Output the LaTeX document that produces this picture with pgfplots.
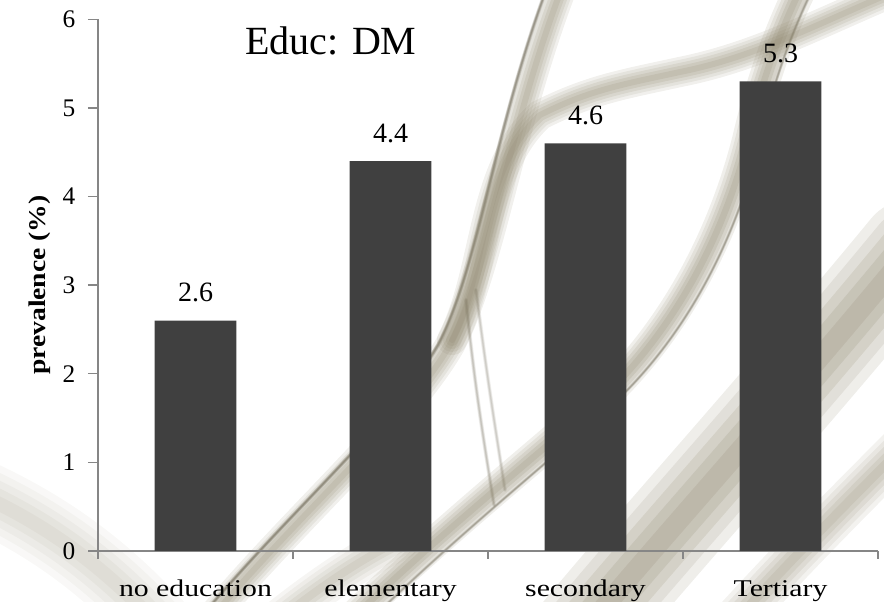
\documentclass[border=0pt]{standalone}
\usepackage{pgfplots}
\pgfplotsset{compat=1.18}
\usepackage{fontspec}
\setmainfont{Liberation Serif}
\usepackage{graphicx}

\definecolor{barfill}{HTML}{404040}
\definecolor{axisgray}{HTML}{868686}
\definecolor{smoke}{HTML}{8A8268}
\definecolor{smokedark}{HTML}{6E6856}

% soft translucent ribbon: several overlapping strokes of decreasing width
\newcommand\ribbon[4][smoke]{%
  \foreach \f/\o in {1/0.08,0.8/0.08,0.6/0.09,0.4/0.10,0.2/0.10}{%
    \pgfmathsetlengthmacro\lw{\f*#2*0.75pt}%
    \draw[#1, line cap=round, line width=\lw, opacity=\o*#3] #4;}}

\begin{document}
\begin{tikzpicture}
\useasboundingbox (0,0) rectangle (663pt,451.5pt);

% smoky background ribbons (coordinates in pixels, measured from the top left)
\begin{scope}[yshift=451.5pt, x=0.75pt, y=-0.75pt]
  \clip (0,0) rectangle (884,602);
  % pale wisps at the lower left
  \ribbon{70}{0.7}{(-30,490) .. controls (60,530) and (120,580) .. (180,650)}
  % main swirl rising from the lower left to the top
  \ribbon{30}{1.5}{(185,650) .. controls (280,530) and (400,430) .. (450,345) .. controls (490,270) and (510,120) .. (565,-20)}
  \ribbon[smokedark]{4}{2.2}{(174,650) .. controls (268,530) and (388,430) .. (438,345) .. controls (478,270) and (496,120) .. (550,-20)}
  % thin strands hanging below the swirl
  \ribbon[smokedark]{4}{1.1}{(466,300) .. controls (474,380) and (482,430) .. (494,505)}
  \ribbon[smokedark]{4}{0.9}{(476,290) .. controls (486,370) and (494,420) .. (505,490)}
  % diagonal band behind the last two bars
  \ribbon{32}{1.6}{(320,650) .. controls (420,550) and (520,470) .. (600,400) .. controls (665,340) and (720,250) .. (748,140) .. controls (762,80) and (780,30) .. (805,-20)}
  \ribbon[smokedark]{3}{1.6}{(330,660) .. controls (430,558) and (530,478) .. (612,405) .. controls (677,345) and (732,255) .. (760,140) .. controls (774,80) and (792,30) .. (817,-20)}
  % upper band peeling off the swirl and sweeping to the right
  \ribbon{30}{1.5}{(452,340) .. controls (488,270) and (480,170) .. (540,115) .. controls (590,90) and (620,85) .. (680,72) .. controls (760,56) and (820,22) .. (910,-15)}
  % broad band at the lower right
  \ribbon{100}{1.7}{(560,660) .. controls (650,550) and (770,420) .. (910,250)}
  \ribbon{45}{1.3}{(700,660) .. controls (780,570) and (850,500) .. (910,440)}
  \ribbon{40}{1.0}{(230,660) .. controls (300,600) and (350,565) .. (400,540)}
\end{scope}

\begin{axis}[
  at={(73.5pt,38.25pt)}, anchor=south west,
  scale only axis, width=585pt, height=398.8pt,
  xmin=-0.5, xmax=3.5, ymin=0, ymax=6,
  axis x line*=bottom, axis y line*=left,
  x axis line style={axisgray, line width=2pt},
  y axis line style={axisgray, line width=1pt},
  tick align=outside,
  major tick length=7.5pt, minor tick length=6pt,
  ytick={0,1,2,3,4,5,6},
  y tick style={axisgray, line width=1pt},
  xtick={0,1,2,3},
  xticklabels={\scalebox{1.24}[1]{no education}, \scalebox{1.24}[1]{elementary}, \scalebox{1.24}[1]{secondary}, \scalebox{1.24}[1]{Tertiary}},
  major x tick style={draw=none},
  minor xtick={-0.5,0.5,1.5,2.5,3.5},
  minor x tick style={axisgray, line width=1pt},
  /pgf/number format/assume math mode=true,
  yticklabel style={font=\fontsize{19}{19}\selectfont, xshift=-6pt},
  xticklabel style={font=\fontsize{18}{18}\selectfont, anchor=base, yshift=-26.5pt},
  ylabel={\scalebox{1.15}[1]{\bfseries prevalence (\%)}},
  ylabel style={font=\fontsize{18}{18}\selectfont, at={(axis description cs:-0.0744,0.5)}, anchor=center},
  nodes near coords,
  every node near coord/.append style={font=\fontsize{21}{21}\selectfont, anchor=base, yshift=14.25pt, text=black},
  clip=false,
]
\addplot[ybar, bar width=0.42, fill=barfill, draw=none] coordinates {(0,2.6) (1,4.4) (2,4.6) (3,5.3)};
\node[anchor=base, font=\fontsize{30}{30}\selectfont] at (axis description cs:0.2987,0.933) {Educ: DM};
\end{axis}
\end{tikzpicture}
\end{document}
